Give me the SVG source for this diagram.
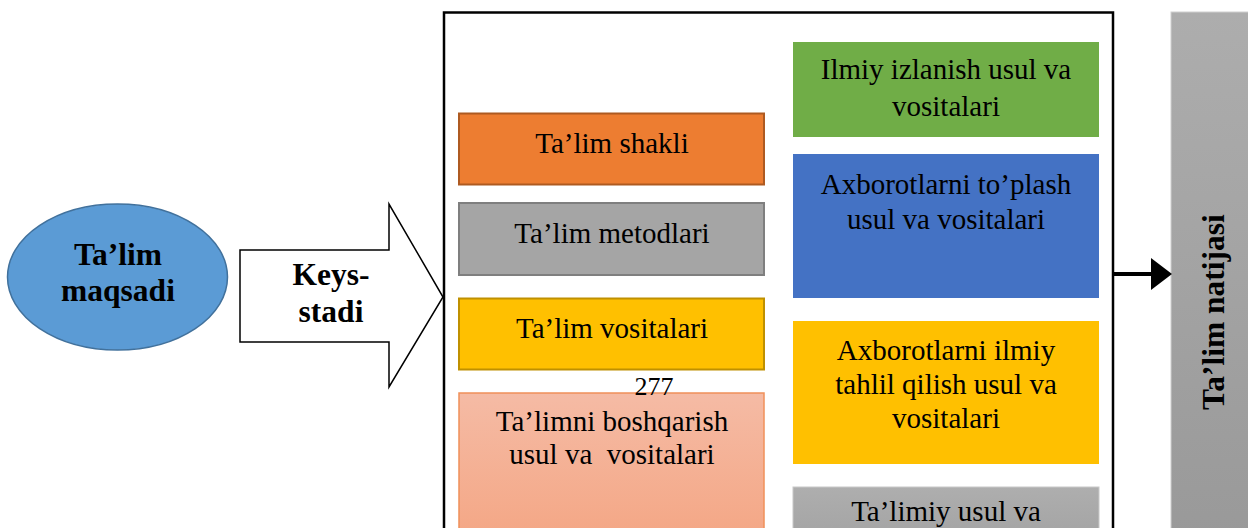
<svg xmlns="http://www.w3.org/2000/svg" width="1248" height="528" viewBox="0 0 1248 528">
<defs>
<linearGradient id="gBar" x1="0" y1="0" x2="0" y2="1">
<stop offset="0" stop-color="#ADADAD"/><stop offset="1" stop-color="#999999"/>
</linearGradient>
<linearGradient id="gPink" x1="0" y1="0" x2="0" y2="1">
<stop offset="0" stop-color="#F5BBA5"/><stop offset="1" stop-color="#F4A684"/>
</linearGradient>
<linearGradient id="gGray" x1="0" y1="0" x2="0" y2="1">
<stop offset="0" stop-color="#AEAEAE"/><stop offset="1" stop-color="#A2A2A2"/>
</linearGradient>
</defs>
<style>
text{font-family:'Liberation Serif','DejaVu Serif',serif;fill:#000;text-anchor:middle}
.t{font-size:29px}
.b{font-size:31.5px;font-weight:bold}
</style>
<rect width="1248" height="528" fill="#fff"/>
<g id="frame"><rect x="444" y="12.5" width="669" height="530" fill="#fff" stroke="#000" stroke-width="2.5"/></g>
<g id="goal">
<ellipse cx="117.5" cy="277" rx="110" ry="73" fill="#5B9BD5" stroke="#41719C" stroke-width="1.5"/>
<text class="b" x="118" y="265">Ta’lim</text>
<text class="b" x="118" y="301">maqsadi</text>
</g>
<g id="keys">
<polygon points="240,250 389,250 389,204 443,297 389,387 389,342 240,342" fill="#fff" stroke="#000" stroke-width="1.5"/>
<text class="b" x="331" y="285">Keys-</text>
<text class="b" x="331" y="322">stadi</text>
</g>
<g id="shakli"><rect x="459" y="113.5" width="305" height="71" fill="#ED7D31" stroke="#AE5A21" stroke-width="2"/><text class="t" x="612" y="153">Ta’lim shakli</text></g>
<g id="metod"><rect x="459" y="203" width="305" height="72" fill="#A5A5A5" stroke="#7F7F7F" stroke-width="2"/><text class="t" x="612" y="243">Ta’lim metodlari</text></g>
<g id="vosita"><rect x="459" y="298.5" width="305" height="71" fill="#FFC000" stroke="#BF9000" stroke-width="2"/><text class="t" x="612" y="338">Ta’lim vositalari</text></g>
<g id="boshq"><rect x="459" y="393" width="305" height="150" fill="url(#gPink)" stroke="#F0905A" stroke-width="1.5"/><text class="t" x="612" y="431">Ta’limni boshqarish</text><text class="t" x="612" y="464" xml:space="preserve">usul va  vositalari</text></g>
<text id="page" x="654" y="395" font-size="26">277</text>
<g id="ilmiy"><rect x="793" y="42" width="306" height="95" fill="#70AD47"/><text class="t" x="946" y="79">Ilmiy izlanish usul va</text><text class="t" x="946" y="116">vositalari</text></g>
<g id="toplash"><rect x="793" y="154" width="306" height="144" fill="#4472C4"/><text class="t" x="946" y="194">Axborotlarni to’plash</text><text class="t" x="946" y="229">usul va vositalari</text></g>
<g id="tahlil"><rect x="793" y="321" width="306" height="143" fill="#FFC000"/><text class="t" x="946" y="360">Axborotlarni ilmiy</text><text class="t" x="946" y="394">tahlil qilish usul va</text><text class="t" x="946" y="428">vositalari</text></g>
<g id="talimiy"><rect x="793" y="487" width="306" height="60" fill="url(#gGray)" stroke="#C8C8C8" stroke-width="1"/><text class="t" x="946" y="521">Ta’limiy usul va</text></g>
<g id="natija"><rect x="1171" y="12" width="90" height="530" fill="url(#gBar)" stroke="#D0D0D0" stroke-width="1"/><text class="b" transform="translate(1224,312) rotate(-90)" x="0" y="0">Ta’lim natijasi</text></g>
<g id="connectors">
<line x1="1114" y1="274" x2="1153" y2="274" stroke="#000" stroke-width="4"/>
<polygon points="1151,258 1172,274 1151,290" fill="#000"/>
</g>
</svg>
